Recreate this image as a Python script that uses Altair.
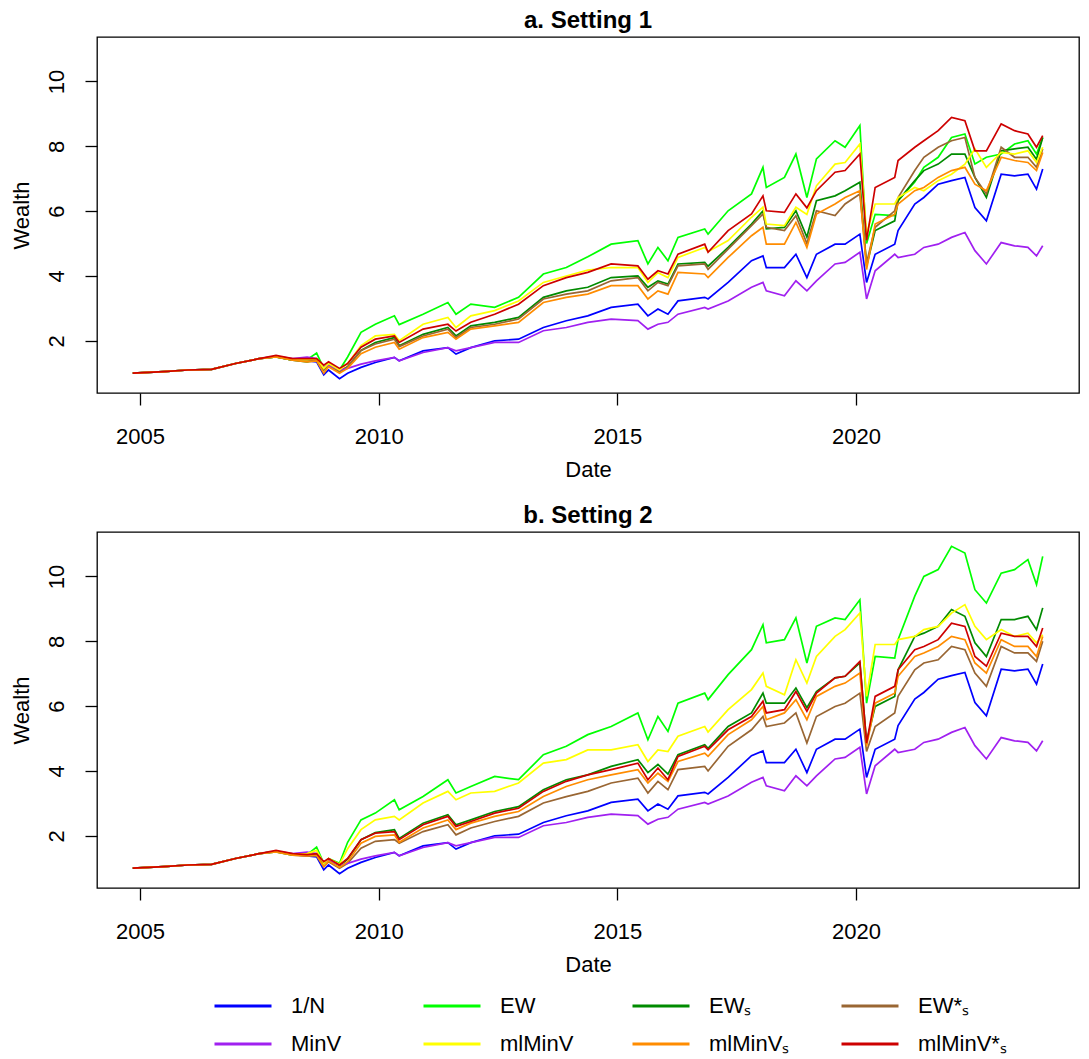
import altair as alt
import pandas as pd

# decimal-year dates shared by every series
dates = [2004.85, 2005.5, 2006.0, 2006.5, 2007.0, 2007.5, 2007.85, 2008.2, 2008.5, 2008.7,
         2008.85, 2008.95, 2009.18, 2009.35, 2009.63, 2009.93, 2010.33, 2010.43, 2010.93, 2011.45,
         2011.62, 2011.93, 2012.43, 2012.93, 2013.45, 2013.93, 2014.38, 2014.87, 2015.43, 2015.64,
         2015.85, 2016.06, 2016.27, 2016.83, 2016.9, 2017.32, 2017.81, 2018.05, 2018.12, 2018.5,
         2018.74, 2018.97, 2019.17, 2019.56, 2019.77, 2020.08, 2020.22, 2020.4, 2020.81, 2020.88,
         2021.23, 2021.42, 2021.72, 2022.0, 2022.28, 2022.49, 2022.73, 2023.04, 2023.32, 2023.6,
         2023.78, 2023.91]

# benchmarks (identical in both settings)
one_over_n = [1.0, 1.05, 1.1, 1.12, 1.3, 1.45, 1.52, 1.42, 1.38, 1.35,
              0.95, 1.1, 0.83, 1.0, 1.18, 1.33, 1.49, 1.38, 1.69, 1.79,
              1.59, 1.79, 2.0, 2.05, 2.41, 2.62, 2.77, 3.03, 3.13, 2.77,
              2.98, 2.82, 3.23, 3.34, 3.29, 3.8, 4.47, 4.62, 4.26, 4.26,
              4.67, 3.95, 4.67, 4.98, 4.98, 5.29, 3.8, 4.67, 4.98, 5.4,
              6.22, 6.42, 6.83, 6.94, 7.04, 6.11, 5.7, 7.14, 7.09, 7.14,
              6.68, 7.3]
minv = [1.0, 1.05, 1.1, 1.12, 1.3, 1.45, 1.52, 1.45, 1.5, 1.45,
        1.2, 1.25, 1.1, 1.15, 1.28, 1.38, 1.49, 1.38, 1.64, 1.79,
        1.69, 1.79, 1.95, 1.95, 2.31, 2.41, 2.57, 2.67, 2.62, 2.36,
        2.51, 2.57, 2.82, 3.03, 2.98, 3.23, 3.65, 3.8, 3.54, 3.39,
        3.85, 3.54, 3.85, 4.37, 4.42, 4.73, 3.29, 4.16, 4.67, 4.57,
        4.67, 4.88, 4.98, 5.19, 5.34, 4.78, 4.37, 5.03, 4.93, 4.88,
        4.62, 4.93]

# Setting 1
a_ew = [1.0, 1.05, 1.1, 1.12, 1.3, 1.45, 1.5, 1.4, 1.42, 1.62,
        1.15, 1.3, 1.1, 1.5, 2.26, 2.51, 2.77, 2.5, 2.82, 3.18,
        2.82, 3.13, 3.03, 3.34, 4.06, 4.26, 4.59, 4.98, 5.09, 4.37,
        4.88, 4.47, 5.19, 5.45, 5.29, 6.01, 6.53, 7.35, 6.73, 7.04,
        7.76, 6.42, 7.61, 8.17, 7.97, 8.64, 5.0, 5.9, 5.86, 6.32,
        6.9, 7.35, 7.66, 8.27, 8.38, 7.45, 7.66, 7.76, 8.07, 8.17,
        7.76, 8.27]
a_mlminv = [1.0, 1.05, 1.1, 1.12, 1.3, 1.45, 1.52, 1.42, 1.42, 1.45,
            1.15, 1.3, 1.1, 1.3, 1.85, 2.15, 2.2, 2.0, 2.51, 2.72,
            2.41, 2.77, 2.93, 3.23, 3.8, 4.0, 4.18, 4.26, 4.26, 3.8,
            4.1, 3.95, 4.57, 4.88, 4.75, 5.09, 5.81, 6.12, 5.6, 5.55,
            6.12, 5.9, 6.78, 7.45, 7.5, 8.07, 5.3, 6.22, 6.22, 6.42,
            6.73, 6.63, 6.94, 7.14, 7.45, 7.92, 7.35, 7.81, 7.76, 7.86,
            7.5, 7.97]
a_mlminv_s2 = [1.0, 1.05, 1.1, 1.12, 1.3, 1.45, 1.55, 1.45, 1.45, 1.45,
               1.25, 1.35, 1.15, 1.3, 1.8, 2.05, 2.15, 1.95, 2.36, 2.51,
               2.3, 2.57, 2.82, 3.13, 3.7, 3.95, 4.11, 4.37, 4.31, 3.9,
               4.16, 4.06, 4.67, 4.98, 4.73, 5.4, 5.91, 6.47, 6.01, 5.96,
               6.53, 6.1, 6.63, 7.2, 7.25, 7.76, 5.1, 6.73, 7.04, 7.56,
               7.97, 8.17, 8.48, 8.89, 8.79, 7.86, 7.86, 8.69, 8.48, 8.38,
               7.97, 8.33]
a_ew_s = [1.0, 1.05, 1.1, 1.12, 1.3, 1.45, 1.5, 1.4, 1.35, 1.4,
          1.1, 1.25, 1.05, 1.2, 1.7, 1.95, 2.1, 1.85, 2.2, 2.41,
          2.15, 2.46, 2.57, 2.72, 3.34, 3.54, 3.65, 3.95, 4.0, 3.65,
          3.85, 3.75, 4.37, 4.42, 4.3, 4.88, 5.6, 6.01, 5.45, 5.5,
          6.01, 5.2, 6.32, 6.47, 6.63, 6.89, 4.3, 5.4, 5.7, 6.32,
          6.94, 7.25, 7.45, 7.76, 7.76, 7.04, 6.42, 7.86, 7.92, 7.97,
          7.6, 8.27]
a_ew_s2 = [1.0, 1.05, 1.1, 1.12, 1.3, 1.45, 1.5, 1.4, 1.38, 1.4,
           1.1, 1.25, 1.05, 1.2, 1.7, 1.9, 2.05, 1.82, 2.15, 2.36,
           2.1, 2.41, 2.51, 2.67, 3.29, 3.44, 3.54, 3.85, 3.95, 3.54,
           3.8, 3.7, 4.31, 4.37, 4.2, 4.83, 5.55, 5.91, 5.5, 5.4,
           5.86, 5.0, 6.01, 5.86, 6.22, 6.53, 4.4, 5.5, 6.01, 6.42,
           7.25, 7.66, 7.97, 8.17, 8.27, 7.04, 6.53, 7.97, 7.66, 7.66,
           7.35, 7.92]
a_mlminv_s = [1.0, 1.05, 1.1, 1.12, 1.3, 1.45, 1.5, 1.4, 1.35, 1.38,
              1.0, 1.2, 1.0, 1.15, 1.6, 1.8, 1.95, 1.74, 2.1, 2.26,
              2.05, 2.36, 2.46, 2.57, 3.18, 3.34, 3.44, 3.7, 3.7, 3.29,
              3.54, 3.44, 4.11, 4.06, 3.95, 4.57, 5.24, 5.5, 4.98, 4.98,
              5.65, 4.88, 5.91, 6.22, 6.42, 6.63, 4.2, 5.6, 5.9, 6.22,
              6.63, 6.73, 7.04, 7.25, 7.35, 6.83, 6.63, 7.66, 7.56, 7.5,
              7.25, 7.81]

# Setting 2
b_ew = [1.0, 1.05, 1.1, 1.12, 1.3, 1.45, 1.5, 1.4, 1.42, 1.65,
        1.15, 1.3, 1.15, 1.8, 2.49, 2.7, 3.11, 2.8, 3.21, 3.73,
        3.32, 3.52, 3.83, 3.73, 4.5, 4.76, 5.12, 5.37, 5.79, 4.96,
        5.68, 5.22, 6.09, 6.4, 6.2, 6.97, 7.74, 8.51, 7.95, 8.05,
        8.72, 7.33, 8.46, 8.72, 8.67, 9.28, 6.09, 7.53, 7.48, 8.05,
        9.39, 10.0, 10.21, 10.93, 10.72, 9.59, 9.18, 10.1, 10.21, 10.52,
        9.75, 10.62]
b_mlminv = [1.0, 1.05, 1.1, 1.12, 1.3, 1.45, 1.52, 1.42, 1.45, 1.55,
            1.15, 1.3, 1.12, 1.6, 2.19, 2.49, 2.6, 2.49, 3.01, 3.37,
            3.11, 3.32, 3.37, 3.63, 4.24, 4.35, 4.65, 4.65, 4.81, 4.29,
            4.65, 4.6, 5.07, 5.37, 5.2, 5.89, 6.51, 7.02, 6.61, 6.35,
            7.43, 6.71, 7.53, 8.15, 8.36, 8.87, 6.3, 7.9, 7.9, 8.05,
            8.15, 8.36, 8.46, 8.87, 9.13, 8.46, 8.05, 8.36, 8.15, 8.25,
            7.95, 8.2]
b_mlminv_s2 = [1.0, 1.05, 1.1, 1.12, 1.3, 1.45, 1.55, 1.45, 1.42, 1.45,
               1.2, 1.3, 1.1, 1.3, 1.88, 2.08, 2.13, 1.88, 2.34, 2.6,
               2.29, 2.44, 2.7, 2.85, 3.37, 3.68, 3.88, 4.04, 4.24, 3.73,
               4.09, 3.73, 4.45, 4.76, 4.65, 5.27, 5.68, 6.15, 5.79, 5.89,
               6.45, 5.84, 6.4, 6.87, 6.92, 7.38, 4.86, 6.3, 6.61, 7.12,
               7.74, 7.84, 8.05, 8.56, 8.46, 7.53, 7.23, 8.25, 8.15, 8.15,
               7.84, 8.41]
b_ew_s = [1.0, 1.05, 1.1, 1.12, 1.3, 1.45, 1.52, 1.42, 1.4, 1.42,
          1.15, 1.28, 1.08, 1.28, 1.88, 2.1, 2.19, 1.92, 2.39, 2.65,
          2.34, 2.49, 2.75, 2.9, 3.42, 3.73, 3.88, 4.14, 4.35, 3.95,
          4.2, 3.9, 4.5, 4.81, 4.7, 5.37, 5.79, 6.4, 6.09, 6.09,
          6.56, 5.95, 6.45, 6.87, 6.92, 7.33, 4.9, 5.99, 6.3, 7.12,
          8.15, 8.25, 8.46, 8.98, 8.77, 7.95, 7.53, 8.67, 8.67, 8.77,
          8.36, 9.03]
b_mlminv_s = [1.0, 1.05, 1.1, 1.12, 1.3, 1.45, 1.5, 1.4, 1.38, 1.4,
              1.05, 1.22, 1.02, 1.2, 1.77, 1.98, 2.03, 1.8, 2.24, 2.49,
              2.19, 2.39, 2.6, 2.75, 3.21, 3.52, 3.73, 3.88, 4.04, 3.63,
              3.93, 3.68, 4.29, 4.55, 4.45, 5.12, 5.58, 5.99, 5.58, 5.79,
              6.2, 5.58, 6.3, 6.61, 6.71, 7.02, 4.76, 6.09, 6.4, 6.92,
              7.53, 7.64, 7.84, 8.15, 8.05, 7.33, 7.02, 8.05, 7.84, 7.84,
              7.53, 8.15]
b_ew_s2 = [1.0, 1.05, 1.1, 1.12, 1.3, 1.45, 1.5, 1.4, 1.38, 1.38,
           1.05, 1.2, 1.0, 1.15, 1.62, 1.83, 1.88, 1.77, 2.13, 2.34,
           2.03, 2.24, 2.44, 2.6, 3.01, 3.21, 3.37, 3.63, 3.78, 3.32,
           3.68, 3.42, 4.04, 4.14, 4.0, 4.76, 5.27, 5.68, 5.37, 5.48,
           5.79, 4.86, 5.68, 5.99, 6.09, 6.4, 4.6, 5.37, 5.79, 6.3,
           7.12, 7.33, 7.43, 7.84, 7.74, 7.02, 6.61, 7.84, 7.64, 7.64,
           7.38, 8.0]

series_names = ["1/N", "EW", "EWₛ", "EW*ₛ", "MinV", "mlMinV", "mlMinVₛ", "mlMinV*ₛ"]
series_colors = ["#0000FF", "#00FF00", "#008B00", "#996633", "#A020F0", "#FFFF00", "#FF8C00", "#CD0000"]
x_ticks = [2005, 2010, 2015, 2020]
y_ticks = [2, 4, 6, 8, 10]

setting1 = [one_over_n, a_ew, a_ew_s, a_ew_s2, minv, a_mlminv, a_mlminv_s, a_mlminv_s2]
setting2 = [one_over_n, b_ew, b_ew_s, b_ew_s2, minv, b_mlminv, b_mlminv_s, b_mlminv_s2]


def frame(series_list):
    rows = []
    for k, (name, vals) in enumerate(zip(series_names, series_list)):
        assert len(vals) == len(dates), name
        for t, v in zip(dates, vals):
            rows.append({"date": t, "wealth": v, "series": name, "k": k})
    return pd.DataFrame(rows)


FONT = "Liberation Sans"

legend = alt.Legend(
    orient="none", legendX=116, legendY=958, direction="horizontal", columns=4,
    symbolType="stroke", symbolSize=3249, symbolStrokeWidth=3, clipHeight=22,
    labelFont=FONT, labelFontSize=22, labelColor="black", labelOffset=18,
    columnPadding=42, rowPadding=16, gridAlign="all", title=None, padding=0,
    labelLimit=400,
)


def panel(df, title):
    return alt.Chart(df).mark_line(strokeWidth=1.7, clip=True).encode(
        x=alt.X("date:Q",
                scale=alt.Scale(domain=[2004.1, 2024.67], nice=False, zero=False),
                axis=alt.Axis(values=x_ticks, format="d", title="Date",
                              labelPadding=21, titlePadding=12)),
        y=alt.Y("wealth:Q",
                scale=alt.Scale(domain=[0.39, 11.37], nice=False, zero=False),
                axis=alt.Axis(values=y_ticks, title="Wealth", labelAngle=270,
                              labelAlign="center", labelBaseline="bottom",
                              labelPadding=17, titlePadding=12)),
        color=alt.Color("series:N",
                        scale=alt.Scale(domain=series_names, range=series_colors),
                        legend=legend),
        detail="k:O",
    ).properties(
        width=982, height=356,
        title=alt.TitleParams(title, font=FONT, fontSize=24, fontWeight="bold",
                              color="black", offset=4, anchor="middle"),
    )


chart = alt.vconcat(
    panel(frame(setting1), "a. Setting 1"),
    panel(frame(setting2), "b. Setting 2"),
    spacing=22,
).resolve_scale(color="shared").properties(
    padding={"left": 1, "top": 0, "right": 0, "bottom": 0}
).configure_view(
    stroke="black", strokeWidth=1.3
).configure_axis(
    grid=False, domain=False, tickColor="black", tickSize=12, tickWidth=1.3,
    labelFont=FONT, labelFontSize=22, labelColor="black",
    titleFont=FONT, titleFontSize=22, titleColor="black", titleFontWeight="normal",
    labelOverlap=False, labelFlush=False,
)

chart.save("out.html", embed_options={"renderer": "svg", "actions": False})
